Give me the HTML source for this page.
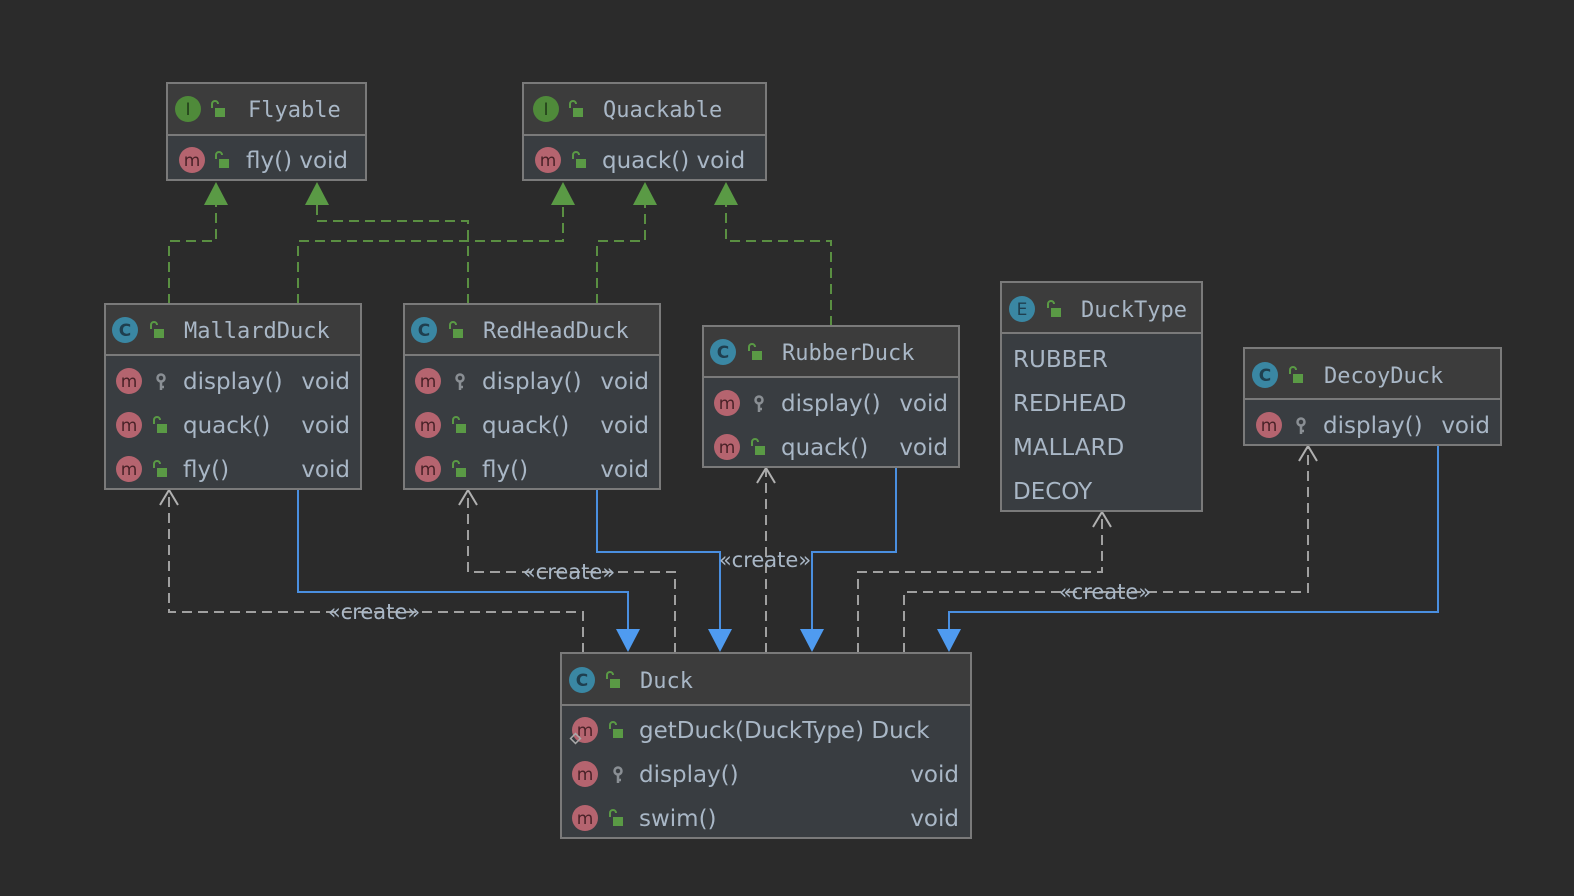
<!DOCTYPE html>
<html><head><meta charset="utf-8"><style>
html,body{margin:0;padding:0;background:#2b2b2b;}
svg{display:block}
.h{font-family:"DejaVu Sans Mono","Liberation Mono",monospace;font-size:22px;fill:#a9b7c6}
.t{font-family:"DejaVu Sans","Liberation Sans",sans-serif;font-size:23px;fill:#a9b7c6}
.lbl{font-family:"DejaVu Sans","Liberation Sans",sans-serif;font-size:21px;fill:#a9b7c6}
.ic{font-family:"DejaVu Sans",sans-serif;font-size:17px;text-anchor:middle}
.hd{fill:#3c3c3c;stroke:#7a7a7a;stroke-width:2}
.bd{fill:#393d41;stroke:#7a7a7a;stroke-width:2}
.g{fill:none;stroke:#5a8f42;stroke-width:2;stroke-dasharray:10 6}
.b{fill:none;stroke:#4a8fe0;stroke-width:2}
.d{fill:none;stroke:#a0a0a0;stroke-width:2;stroke-dasharray:10 6}
.oa{fill:none;stroke:#b0b0b0;stroke-width:2}
</style></head><body>
<svg width="1574" height="896" xmlns="http://www.w3.org/2000/svg">
<defs>
<g id="lock"><path d="M-5,-2 v-4 a3,3 0 0 1 6,0" fill="none" stroke="#5a9a45" stroke-width="2"/><rect x="-2" y="-2" width="10" height="9" fill="#5a9a45"/></g>
<g id="key"><circle cx="0" cy="-4" r="3.5" fill="none" stroke="#8a8f94" stroke-width="2.5"/><path d="M0,0 v8 M0,5 h3" stroke="#8a8f94" stroke-width="2.5"/></g>
<g id="m"><circle r="13" fill="#b5646f"/><text class="ic" y="6" fill="#4a2228" font-size="21">m</text></g>
<g id="c"><circle r="13" fill="#3a87a3"/><text class="ic" y="6" fill="#1f3f4f" font-weight="bold">C</text></g>
<g id="i"><circle r="13" fill="#4f8a3a"/><text class="ic" y="6" fill="#223f1a" font-family="DejaVu Serif,serif">I</text></g>
<g id="e"><circle r="13" fill="#3a87a3"/><text class="ic" y="6" fill="#1f3f4f">E</text></g>
</defs>

<path class="g" d="M169,304 V241 H216 V205"/>
<path class="g" d="M298,304 V241 H563 V205"/>
<path class="g" d="M468,304 V221 H317 V205"/>
<path class="g" d="M597,304 V241 H645 V205"/>
<path class="g" d="M831,326 V241 H726 V205"/>
<g fill="#5a9a45">
<polygon points="216,182 204,205 228,205"/>
<polygon points="317,182 305,205 329,205"/>
<polygon points="563,182 551,205 575,205"/>
<polygon points="645,182 633,205 657,205"/>
<polygon points="726,182 714,205 738,205"/>
</g>

<path class="d" d="M583,653 V612 H169 V492"/>
<path class="d" d="M675,653 V572 H468 V492"/>
<path class="d" d="M766,653 V470"/>
<path class="d" d="M858,653 V572 H1102 V514"/>
<path class="d" d="M904,653 V592 H1308 V448"/>
<path class="oa" d="M160,505 L169,490 L178,505"/>
<path class="oa" d="M459,505 L468,490 L477,505"/>
<path class="oa" d="M757,483 L766,468 L775,483"/>
<path class="oa" d="M1093,527 L1102,512 L1111,527"/>
<path class="oa" d="M1299,461 L1308,446 L1317,461"/>

<path class="b" d="M298,489 V592 H628 V635"/>
<path class="b" d="M597,489 V552 H720 V635"/>
<path class="b" d="M896,467 V552 H812 V635"/>
<path class="b" d="M1438,445 V612 H949 V635"/>
<g fill="#4f9bf0">
<polygon points="628,652 616,629 640,629"/>
<polygon points="720,652 708,629 732,629"/>
<polygon points="812,652 800,629 824,629"/>
<polygon points="949,652 937,629 961,629"/>
</g>

<g class="lbl" text-anchor="middle">
<text x="374" y="619">«create»</text>
<text x="569" y="579">«create»</text>
<text x="765" y="567">«create»</text>
<text x="1105" y="599">«create»</text>
</g>

<rect class="hd" x="167" y="83" width="199" height="52"/>
<rect class="bd" x="167" y="135" width="199" height="45"/>
<use href="#i" x="188" y="109"/><use href="#lock" x="217" y="110"/>
<text class="h" x="248" y="117">Flyable</text>
<use href="#m" x="192" y="160"/><use href="#lock" x="221" y="161"/>
<text class="t" x="246" y="168">fly() void</text>

<rect class="hd" x="523" y="83" width="243" height="52"/>
<rect class="bd" x="523" y="135" width="243" height="45"/>
<use href="#i" x="546" y="109"/><use href="#lock" x="575" y="110"/>
<text class="h" x="603" y="117">Quackable</text>
<use href="#m" x="548" y="160"/><use href="#lock" x="578" y="161"/>
<text class="t" x="602" y="168">quack() void</text>

<rect class="hd" x="105" y="304" width="256" height="51"/>
<rect class="bd" x="105" y="355" width="256" height="134"/>
<use href="#c" x="125" y="330"/><use href="#lock" x="156" y="331"/>
<text class="h" x="184" y="338">MallardDuck</text>
<use href="#m" x="129" y="381"/><use href="#key" x="161" y="382"/>
<text class="t" x="183" y="389">display()</text><text class="t" x="350" y="389" text-anchor="end">void</text>
<use href="#m" x="129" y="425"/><use href="#lock" x="159" y="426"/>
<text class="t" x="183" y="433">quack()</text><text class="t" x="350" y="433" text-anchor="end">void</text>
<use href="#m" x="129" y="469"/><use href="#lock" x="159" y="470"/>
<text class="t" x="183" y="477">fly()</text><text class="t" x="350" y="477" text-anchor="end">void</text>

<rect class="hd" x="404" y="304" width="256" height="51"/>
<rect class="bd" x="404" y="355" width="256" height="134"/>
<use href="#c" x="424" y="330"/><use href="#lock" x="455" y="331"/>
<text class="h" x="483" y="338">RedHeadDuck</text>
<use href="#m" x="428" y="381"/><use href="#key" x="460" y="382"/>
<text class="t" x="482" y="389">display()</text><text class="t" x="649" y="389" text-anchor="end">void</text>
<use href="#m" x="428" y="425"/><use href="#lock" x="458" y="426"/>
<text class="t" x="482" y="433">quack()</text><text class="t" x="649" y="433" text-anchor="end">void</text>
<use href="#m" x="428" y="469"/><use href="#lock" x="458" y="470"/>
<text class="t" x="482" y="477">fly()</text><text class="t" x="649" y="477" text-anchor="end">void</text>

<rect class="hd" x="703" y="326" width="256" height="51"/>
<rect class="bd" x="703" y="377" width="256" height="90"/>
<use href="#c" x="723" y="352"/><use href="#lock" x="754" y="353"/>
<text class="h" x="782" y="360">RubberDuck</text>
<use href="#m" x="727" y="403"/><use href="#key" x="759" y="404"/>
<text class="t" x="781" y="411">display()</text><text class="t" x="948" y="411" text-anchor="end">void</text>
<use href="#m" x="727" y="447"/><use href="#lock" x="757" y="448"/>
<text class="t" x="781" y="455">quack()</text><text class="t" x="948" y="455" text-anchor="end">void</text>

<rect class="hd" x="1001" y="282" width="201" height="51"/>
<rect class="bd" x="1001" y="333" width="201" height="178"/>
<use href="#e" x="1022" y="309"/><use href="#lock" x="1053" y="310"/>
<text class="h" x="1081" y="317">DuckType</text>
<text class="t" x="1013" y="367">RUBBER</text>
<text class="t" x="1013" y="411">REDHEAD</text>
<text class="t" x="1013" y="455">MALLARD</text>
<text class="t" x="1013" y="499">DECOY</text>

<rect class="hd" x="1244" y="348" width="257" height="51"/>
<rect class="bd" x="1244" y="399" width="257" height="46"/>
<use href="#c" x="1265" y="375"/><use href="#lock" x="1295" y="376"/>
<text class="h" x="1324" y="383">DecoyDuck</text>
<use href="#m" x="1269" y="425"/><use href="#key" x="1301" y="426"/>
<text class="t" x="1323" y="433">display()</text><text class="t" x="1490" y="433" text-anchor="end">void</text>

<rect class="hd" x="561" y="653" width="410" height="52"/>
<rect class="bd" x="561" y="705" width="410" height="133"/>
<use href="#c" x="582" y="680"/><use href="#lock" x="612" y="681"/>
<text class="h" x="640" y="688">Duck</text>
<use href="#m" x="585" y="730"/><use href="#lock" x="615" y="731"/>
<rect x="572" y="735" width="7" height="7" fill="none" stroke="#aaa" stroke-width="1.5" transform="rotate(45 575.5 738.5)"/>
<text class="t" x="639" y="738">getDuck(DuckType) Duck</text>
<use href="#m" x="585" y="774"/><use href="#key" x="618" y="775"/>
<text class="t" x="639" y="782">display()</text><text class="t" x="959" y="782" text-anchor="end">void</text>
<use href="#m" x="585" y="818"/><use href="#lock" x="615" y="819"/>
<text class="t" x="639" y="826">swim()</text><text class="t" x="959" y="826" text-anchor="end">void</text>
</svg>
</body></html>
